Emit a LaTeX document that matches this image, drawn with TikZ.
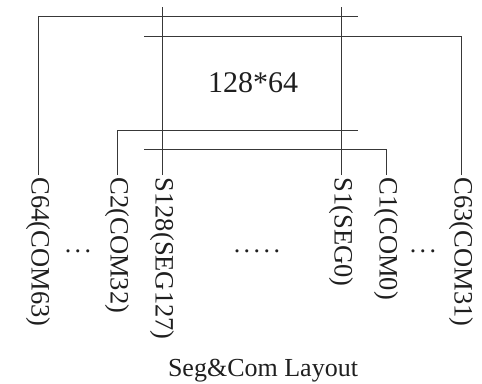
\documentclass[tikz,border=0pt]{standalone}
\usepackage{fontspec}
\setmainfont{Liberation Serif}
\begin{document}
\begin{tikzpicture}[x=1pt,y=-1pt,
  wire/.style={draw=black!78,line width=1pt},
  pin/.style={rotate=-90,anchor=west,inner xsep=2.5pt,inner ysep=0pt,text=black!88,font=\fontsize{26.5}{26.5}\selectfont},
  dots/.style={font=\fontsize{26}{26}\selectfont,text=black!88,inner sep=0pt,anchor=base}]
\useasboundingbox (0,0) rectangle (482,383);
% labels
\node[pin] (c64)  at (38,175)  {C64(COM63)};
\node[pin] (c2)   at (117,175) {C2(COM32)};
\node[pin] (s128) at (162,175) {S128(SEG127)};
\node[pin] (s1)   at (341,175) {S1(SEG0)};
\node[pin] (c1)   at (386,175) {C1(COM0)};
\node[pin] (c63)  at (461,175) {C63(COM31)};
% free ends
\coordinate (e1) at (358,16.5);
\coordinate (e2) at (144,36);
\coordinate (e3) at (358,130);
\coordinate (e4) at (144,149.5);
\coordinate (t128) at (162,7);
\coordinate (t1) at (341,7);
% wires
\draw[wire] (c64.west) |- (e1);
\draw[wire] (c63.west) |- (e2);
\draw[wire] (c2.west) |- (e3);
\draw[wire] (c1.west) |- (e4);
\draw[wire] (s128.west) -- (t128);
\draw[wire] (s1.west) -- (t1);
% texts
\node[anchor=base,inner sep=0pt,text=black!88,font=\fontsize{30}{30}\selectfont] (panel) at (253,92) {128*64};
\node[dots] (d1) at (78,252) {.\hspace{3.5pt}.\hspace{3.5pt}.};
\node[dots] (d2) at (257,252) {.\hspace{3.5pt}.\hspace{3.5pt}.\hspace{3.5pt}.\hspace{3.5pt}.};
\node[dots] (d3) at (423,252) {.\hspace{3.5pt}.\hspace{3.5pt}.};
\node[anchor=base,inner sep=0pt,text=black!88,font=\fontsize{26}{26}\selectfont] (title) at (263,376) {Seg\&Com Layout};
\end{tikzpicture}
\end{document}
